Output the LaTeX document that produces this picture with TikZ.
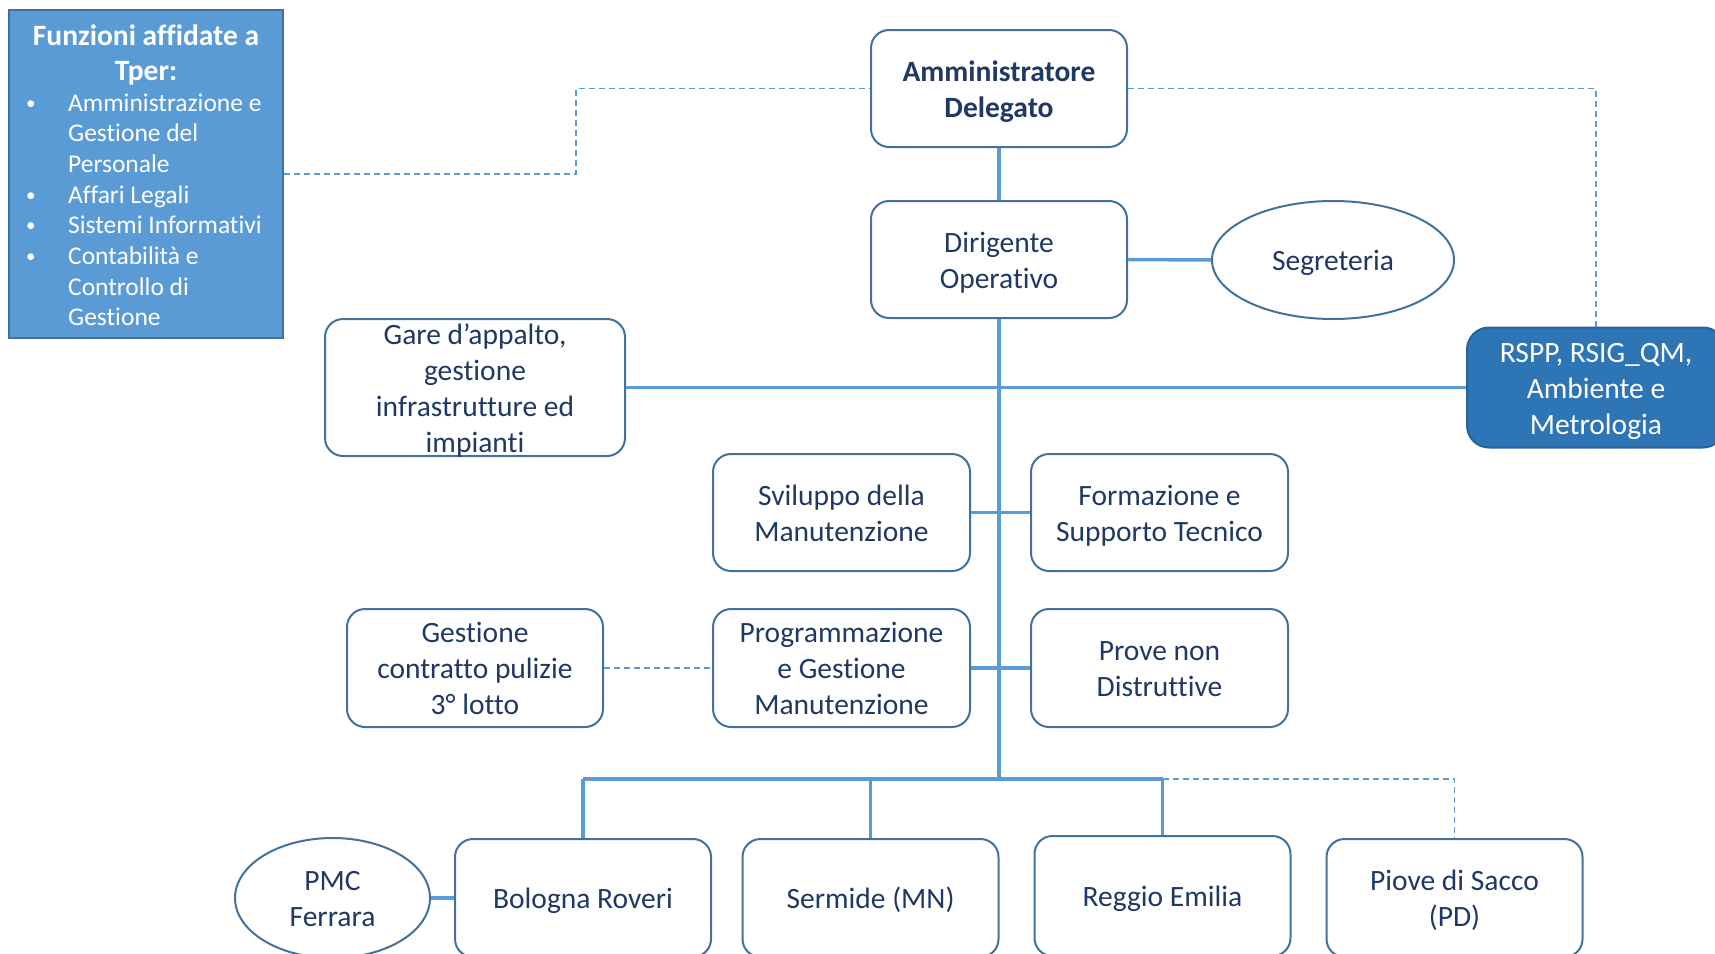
\documentclass[tikz,border=0pt]{standalone}
\usepackage{fontspec}
\setmainfont{Carlito}[Ligatures=NoCommon]
\usetikzlibrary{shapes.geometric}
\definecolor{linec}{HTML}{5B9BD5}
\definecolor{bordc}{HTML}{41719C}
\definecolor{txtc}{HTML}{203864}
\definecolor{darkfill}{HTML}{2E75B6}
\definecolor{lightfill}{HTML}{5B9BD5}
\newcommand{\mainfs}{\fontsize{29.5}{36}\selectfont}
\newcommand{\bulfs}{\fontsize{25.5}{30.6}\selectfont}
\newcommand{\titfs}{\fontsize{29.5}{35}\selectfont\bfseries}
\newcommand{\tS}{\rule{0pt}{28.5pt}}
\newcommand{\bS}{\rule[-7pt]{0pt}{0pt}}
\tikzset{
  orgbox/.style={draw=bordc, line width=2pt, rounded corners=18pt, fill=white,
    minimum width=256pt, minimum height=117pt, align=center, text=txtc, font=\mainfs, inner sep=2pt},
  orgell/.style={ellipse, draw=bordc, line width=2pt, fill=white, align=center, text=txtc, font=\mainfs, inner sep=0pt},
  txtlab/.style={align=center, text=txtc, font=\mainfs, inner sep=0pt},
  conn/.style={draw=linec, line width=3.5pt},
  dashconn/.style={draw=linec, line width=1.6pt, dash pattern=on 6pt off 4pt},
  bultext/.style={anchor=base west, text=white, font=\bulfs, inner sep=0pt},
  bulpt/.style={anchor=base west, text=white, font=\fontsize{19}{20}\selectfont, inner sep=0pt},
}
\begin{document}
\begin{tikzpicture}[x=1pt,y=-1pt]
\useasboundingbox (0,0) rectangle (1715,953);
% Tper box
\node[draw=bordc, line width=2pt, fill=lightfill, minimum width=274pt, minimum height=328pt, inner sep=0pt] (tbox) at (146,174) {};
\node[text=white, font=\titfs, align=center, inner sep=0pt] (ttitle) at (146,54.5) {Funzioni affidate a\\Tper:};
\foreach \yy/\bb/\tt [count=\i] in {103/1/Amministrazione e, 133/0/Gestione del, 164/0/Personale, 195/1/Affari Legali, 225/1/Sistemi Informativi, 256/1/Contabilità e, 287/0/Controllo di, 317/0/Gestione}{
  \node[bultext] (bt\i) at (68,\yy+8) {\tt};
  \ifnum\bb=1 \node[bulpt] (bb\i) at (26,\yy+6) {•}; \fi
}
% nodes
\node[orgbox, font=\mainfs\bfseries] (amm) at (999,88.5) {\tS Amministratore\\Delegato\bS};
\node[orgbox] (dir) at (999,259.5) {\tS Dirigente\\Operativo\bS};
\node[orgell, minimum width=242pt, minimum height=118pt] (seg) at (1333,260) {\tS Segreteria\bS};
\node[orgbox, fill=darkfill, draw=darkfill!85!black, text=white, minimum width=258pt, minimum height=120pt, rounded corners=22pt] (rspp) at (1596,387.5) {\tS RSPP, RSIG\_QM,\\Ambiente e\\Metrologia\bS};
\node[orgbox, minimum width=300pt, minimum height=137pt, label={[txtlab]center:{\tS Gare d’appalto,\\gestione\\infrastrutture ed\\impianti\bS}}] (gare) at (475,387.5) {};
\node[orgbox, minimum width=257pt] (svil) at (841.5,512.5) {\tS Sviluppo della\\Manutenzione\bS};
\node[orgbox, minimum width=257pt] (form) at (1159.5,512.5) {\tS Formazione e\\Supporto Tecnico\bS};
\node[orgbox, minimum width=257pt, minimum height=118pt] (prog) at (841.5,668) {\tS Programmazione\\e Gestione\\Manutenzione\bS};
\node[orgbox, minimum width=257pt, minimum height=118pt] (prove) at (1159.5,668) {\tS Prove non\\Distruttive\bS};
\node[orgbox, minimum height=118pt] (gestc) at (475,668) {\tS Gestione\\contratto pulizie\\3° lotto\bS};
\node[orgbox, minimum height=118pt] (bol) at (583,898) {\tS Bologna Roveri\bS};
\node[orgbox, minimum height=118pt] (ser) at (870.5,898) {\tS Sermide (MN)\bS};
\node[orgbox, minimum height=120pt] (reg) at (1162.5,896) {\tS Reggio Emilia\bS};
\node[orgbox, minimum height=118pt] (pio) at (1454.5,898) {\tS Piove di Sacco\\(PD)\bS};
\node[orgell, minimum width=195pt, minimum height=120pt] (pmc) at (332.5,898) {\tS PMC\\Ferrara\bS};
% coordinates
\coordinate (bot) at (999,779);
\coordinate (tl) at (576,174);
\coordinate (tr) at (1596,88.5);
% solid connectors
\draw[conn] (amm.south) -- (dir.north);
\draw[conn] (dir.east) -- (seg.west);
\draw[conn] (dir.south) -- (bot);
\draw[conn] (gare.east) -- (gare.east -| rspp.west);
\draw[conn] (svil.east) -- (form.west);
\draw[conn] (prog.east) -- (prove.west);
\draw[conn] (bol.north |- bot) -- (reg.north |- bot);
\draw[conn] (bol.north |- bot) -- (bol.north);
\draw[conn] (ser.north |- bot) -- (ser.north);
\draw[conn] (reg.north |- bot) -- (reg.north);
\draw[conn] (pmc.east) -- (bol.west);
% dashed connectors
\draw[dashconn] (reg.north |- bot) -- (pio.north |- bot) -- (pio.north);
\draw[dashconn] (gestc.east) -- (prog.west);
\draw[dashconn] (tbox.east) -- (tl) -- (tl |- amm.west) -- (amm.west);
\draw[dashconn] (amm.east) -- (tr) -- (rspp.north);
\end{tikzpicture}
\end{document}
